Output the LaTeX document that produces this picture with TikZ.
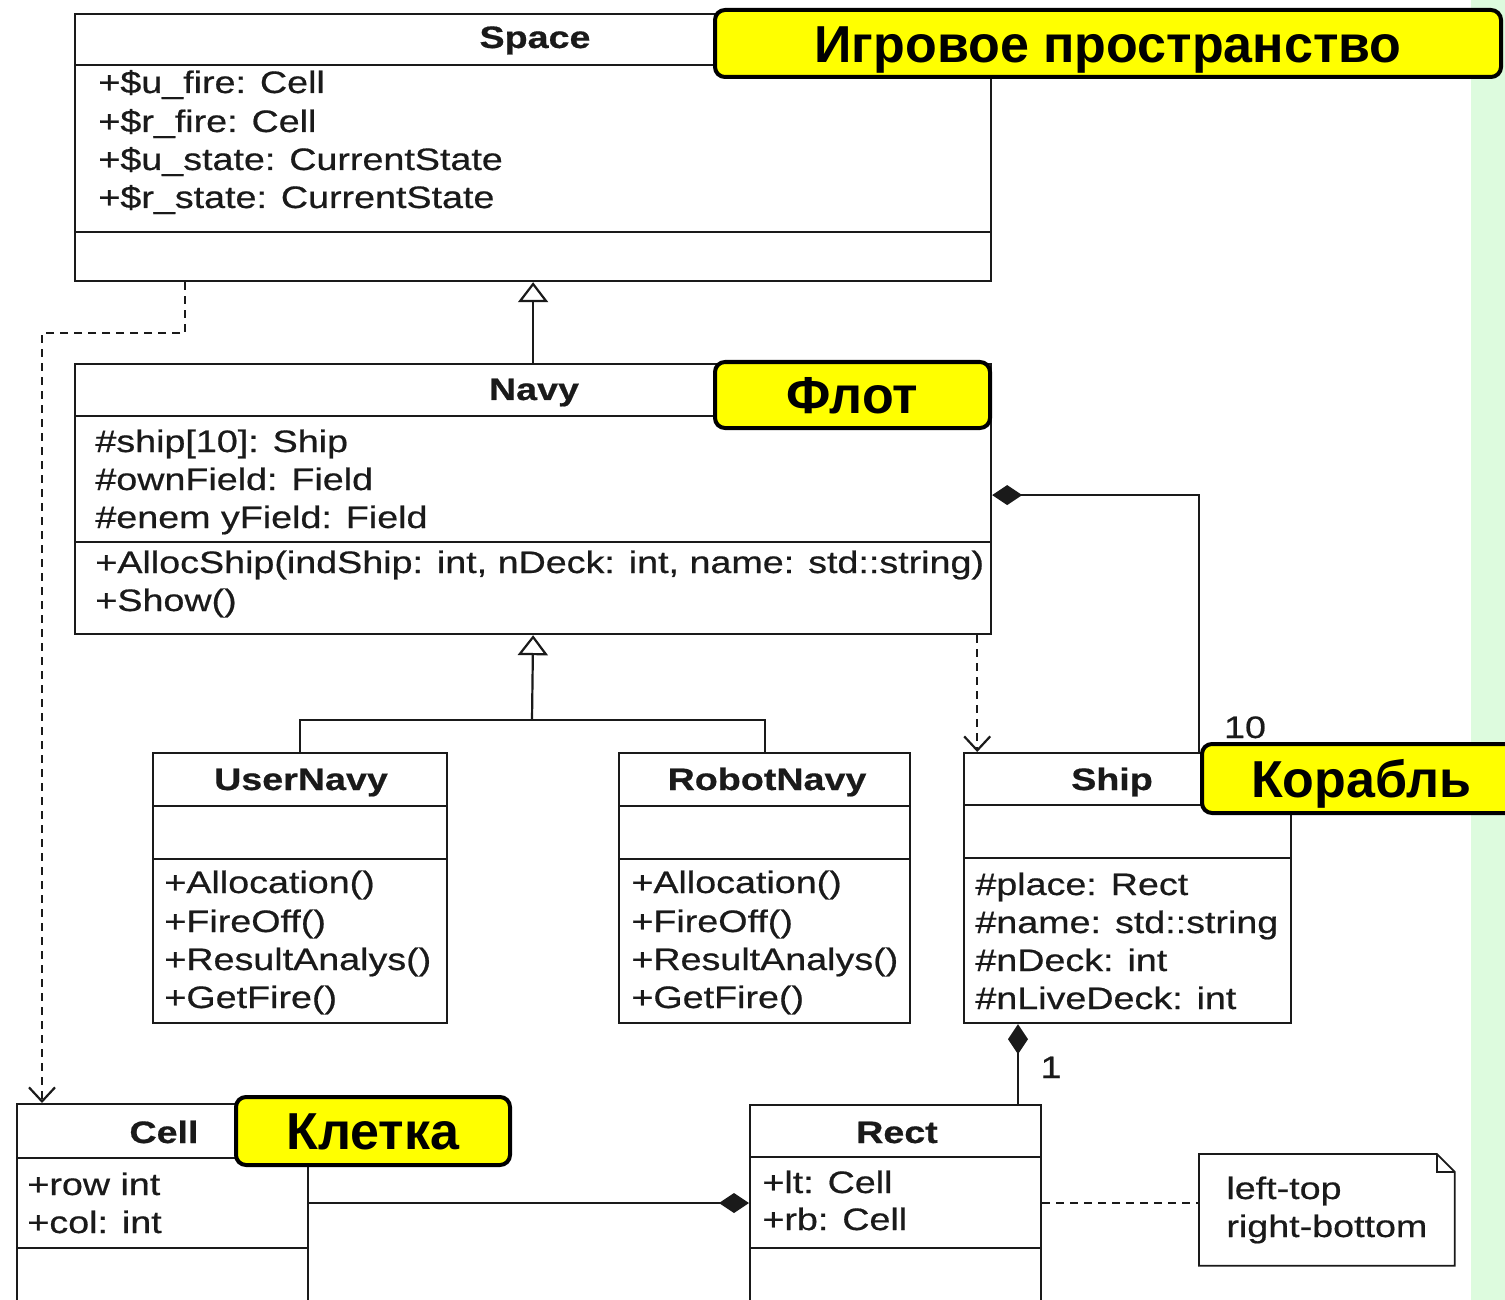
\documentclass[tikz,border=0pt]{standalone}
\usepackage{fontspec}
\usetikzlibrary{arrows.meta}
\newfontfamily\umlf[FakeStretch=1.215, FakeBold=0.6]{Liberation Sans}
\newfontfamily\lblf{Liberation Sans}
\definecolor{ink}{HTML}{1A1A1A}
\definecolor{lblyellow}{HTML}{FFFF00}
\definecolor{stripgreen}{HTML}{DDFBDE}
\tikzset{
 cls/.style={draw=ink, line width=1.1pt, anchor=north west, inner sep=0pt, fill=white},
 ttl/.style={anchor=base, inner sep=0pt, font=\umlf\bfseries\fontsize{15.5}{18}\selectfont, text=ink},
 txt/.style={anchor=base west, inner sep=0pt, font=\umlf\fontsize{15.5}{18}\selectfont, text=ink},
 sep/.style={draw=ink, line width=1.1pt},
 lbl/.style={draw=black, line width=2pt, fill=lblyellow, rounded corners=5pt, inner sep=0pt,
   text height=18.7pt, text depth=0pt, font=\lblf\bfseries\fontsize{26}{30}\selectfont},
 inh/.style={draw=ink, line width=1.1pt, -{Triangle[open, length=10pt, width=15pt, fill=white]}},
 dep/.style={draw=ink, line width=1.1pt, dash pattern=on 4pt off 3pt, -{Straight Barb[length=7pt, width=13pt]}},
 comp/.style={draw=ink, line width=1.1pt, {Diamond[length=15pt, width=10pt]}-},
 plain/.style={draw=ink, line width=1.1pt},
}
\begin{document}
\begin{tikzpicture}[x=0.5pt, y=-0.5pt]
\useasboundingbox (0,0) rectangle (1505,1300);
\clip (0,0) rectangle (1505,1300);
\fill[white] (0,0) rectangle (1505,1300);
\fill[stripgreen] (1471,0) rectangle (1505,1300);

% ---- class boxes ----
\node[cls, minimum width=458pt, minimum height=133.5pt] (space) at (74,13) {};
\node[cls, minimum width=458pt, minimum height=135pt] (navy) at (74,363) {};
\node[cls, minimum width=147pt, minimum height=135pt] (usernavy) at (152,752) {};
\node[cls, minimum width=145.5pt, minimum height=135pt] (robotnavy) at (618,752) {};
\node[cls, minimum width=163.5pt, minimum height=135pt] (ship) at (963,752) {};
\node[cls, minimum width=145.5pt, minimum height=120pt] (cell) at (16,1103) {};
\node[cls, minimum width=145.5pt, minimum height=120pt] (rect) at (749,1104) {};
\node[inner sep=0pt, minimum width=127.5pt, minimum height=55.5pt, anchor=north west] (note) at (1199,1154) {};

% ---- compartments ----
\draw[sep] (74,65) -- (990,65);
\draw[sep] (74,232) -- (990,232);
\draw[sep] (74,416) -- (990,416);
\draw[sep] (74,542) -- (990,542);
\draw[sep] (152,806) -- (446,806);
\draw[sep] (152,859) -- (446,859);
\draw[sep] (618,806) -- (909,806);
\draw[sep] (618,859) -- (909,859);
\draw[sep] (963,805) -- (1290,805);
\draw[sep] (963,858) -- (1290,858);
\draw[sep] (16,1158) -- (307,1158);
\draw[sep] (16,1248) -- (307,1248);
\draw[sep] (749,1157) -- (1040,1157);
\draw[sep] (749,1248) -- (1040,1248);

% note shape
\draw[draw=ink, line width=0.9pt] (note.north west) -- ([xshift=-9pt]note.north east)
  -- ([yshift=-9pt]note.north east) -- (note.south east) -- (note.south west) -- cycle;
\draw[draw=ink, line width=0.9pt] ([xshift=-9pt]note.north east) |- ([yshift=-9pt]note.north east);

% ---- texts ----
\node[ttl] (tspace) at (535,48) {Space};
\node[txt] (s1) at (98,93) {+\$u\_fire: Cell};
\node[txt] (s2) at (98,132) {+\$r\_fire: Cell};
\node[txt] (s3) at (98,170) {+\$u\_state: CurrentState};
\node[txt] (s4) at (98,208) {+\$r\_state: CurrentState};

\node[ttl] (tnavy) at (534,400) {Navy};
\node[txt] (n1) at (95,452) {\#ship[10]: Ship};
\node[txt] (n2) at (95,490) {\#ownField: Field};
\node[txt] (n3) at (95,528) {\#enem yField: Field};
\node[txt] (n4) at (95,573) {+AllocShip(indShip: int, nDeck: int, name: std::string)};
\node[txt] (n5) at (95,611) {+Show()};

\node[ttl] (tuser) at (301,790) {UserNavy};
\node[txt] (u1) at (164,893) {+Allocation()};
\node[txt] (u2) at (164,932) {+FireOff()};
\node[txt] (u3) at (164,970) {+ResultAnalys()};
\node[txt] (u4) at (164,1008) {+GetFire()};

\node[ttl] (trobot) at (767,790) {RobotNavy};
\node[txt] (r1) at (631,893) {+Allocation()};
\node[txt] (r2) at (631,932) {+FireOff()};
\node[txt] (r3) at (631,970) {+ResultAnalys()};
\node[txt] (r4) at (631,1008) {+GetFire()};

\node[ttl] (tship) at (1112,790) {Ship};
\node[txt] (h1) at (975,895) {\#place: Rect};
\node[txt] (h2) at (975,933) {\#name: std::string};
\node[txt] (h3) at (975,971) {\#nDeck: int};
\node[txt] (h4) at (975,1009) {\#nLiveDeck: int};

\node[ttl] (tcell) at (164,1143) {Cell};
\node[txt] (c1) at (27,1195) {+row int};
\node[txt] (c2) at (27,1233) {+col: int};

\node[ttl] (trect) at (897,1143) {Rect};
\node[txt] (e1) at (762,1193) {+lt: Cell};
\node[txt] (e2) at (762,1230) {+rb: Cell};

\node[txt] (o1) at (1226,1199) {left-top};
\node[txt] (o2) at (1226,1237) {right-bottom};

% ---- connectors ----
\draw[inh] (navy.north) -- (space.south);
\coordinate (split) at (532,720);
\draw[plain] (usernavy.north) |- (split) -| (robotnavy.north);
\draw[inh] (split) -- (navy.south);
\draw[comp] ([yshift=2pt]navy.east) -| ([xshift=-46.5pt]ship.north east);
\draw[dep] ([xshift=-7.5pt]navy.south east) -- ([xshift=-7.5pt]navy.south east |- ship.north);
\draw[dep] ([xshift=55.5pt]space.south west) -- ++(0,51) -| ([xshift=13pt]cell.north west);
\draw[comp] ([xshift=27.5pt]ship.south west) -- ([xshift=27.5pt]ship.south west |- rect.north);
\draw[comp] (rect.west |- 0,1203) -- (cell.east |- 0,1203);
\draw[draw=ink, line width=1.1pt, dash pattern=on 4pt off 3pt] (rect.east |- 0,1203) -- (note.west |- 0,1203);

\node[txt, anchor=base] (m10) at (1245,738) {10};
\node[txt, anchor=base] (m1) at (1051,1078) {1};

% ---- yellow labels ----
\node[lbl, minimum width=393pt, minimum height=33.5pt] (lspace) at (1108,43.5) {Игровое пространство};
\node[lbl, minimum width=137.5pt, minimum height=33pt] (lnavy) at (852.5,395) {Флот};
\node[lbl, minimum width=159pt, minimum height=34.5pt] (lship) at (1361,778.5) {Корабль};
\node[lbl, minimum width=137pt, minimum height=34pt] (lcell) at (373,1131) {Клетка};
\end{tikzpicture}
\end{document}
